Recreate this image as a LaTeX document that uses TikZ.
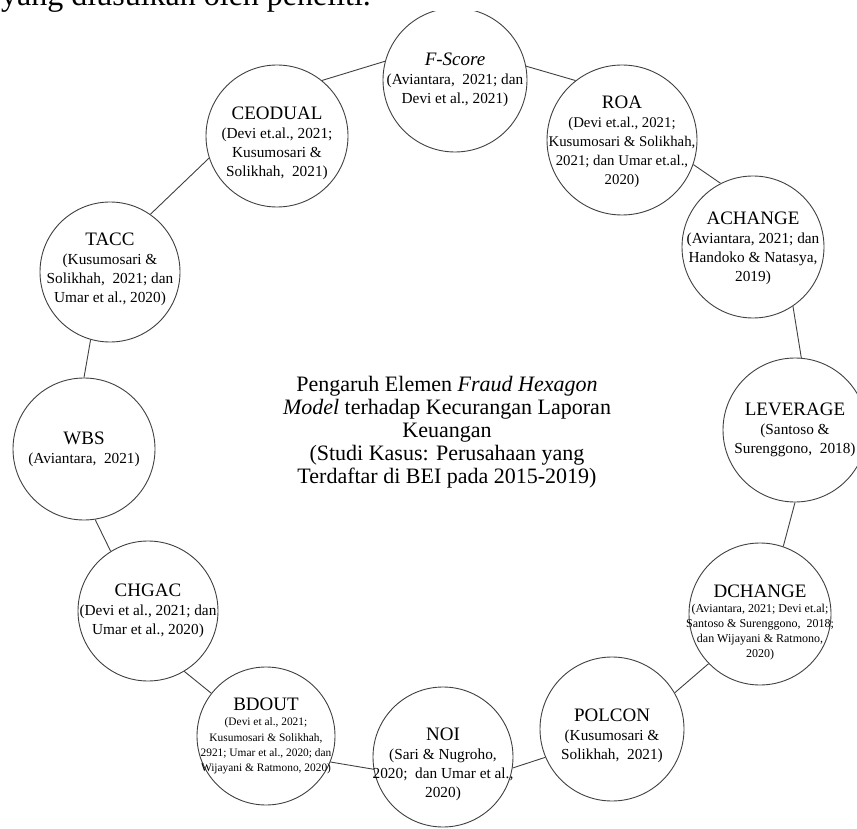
\documentclass[tikz,border=0pt]{standalone}
\usepackage{fontspec}
\setmainfont{Liberation Serif}
\newcommand\ttlf{\fontsize{19}{21}\selectfont}
\newcommand\reff{\fontsize{15.3}{19}\selectfont}
\newcommand\roaf{\fontsize{14.8}{19}\selectfont}
\newcommand\smlf{\fontsize{12}{15}\selectfont}
\newcommand\bdof{\fontsize{11.4}{15.3}\selectfont}
\newcommand\ctrf{\fontsize{22}{23}\selectfont}
\begin{document}
\begin{tikzpicture}[x=1pt,y=-1pt,
  bub/.style={circle,draw=black!75,line width=0.9pt,fill=white,minimum size=144pt,inner sep=0pt},
  lbl/.style={align=center,inner sep=0pt,font=\reff},
  link/.style={draw=black!75,line width=0.9pt}]
\useasboundingbox (0,0) rectangle (857,829);
% circles
\node[bub] (fs) at (455,80) {};
\node[bub,minimum size=150pt] (roa) at (622,140) {};
\node[bub,minimum size=142pt] (ach) at (753,247) {};
\node[bub] (lev) at (795,430) {};
\node[bub,minimum size=142pt] (dch) at (760,614) {};
\node[bub,minimum size=144pt] (pol) at (612,729) {};
\node[bub,minimum size=140pt] (noi) at (443,757) {};
\node[bub,minimum size=138pt] (bdo) at (266,736) {};
\node[bub,minimum size=140pt] (chg) at (148,611) {};
\node[bub,minimum size=142pt] (wbs) at (84,449) {};
\node[bub,minimum size=140pt] (tacc) at (110,272) {};
\node[bub,minimum size=142pt] (ceo) at (277,136) {};
% texts
\node[lbl] (fst) at (fs.center) {{\ttlf\textit{F-Score}}\\(Aviantara,\ \ 2021; dan\\Devi et al., 2021)};
\node[lbl,font=\roaf] (roat) at ([yshift=-2pt]roa.center) {{\ttlf ROA}\\(Devi et.al., 2021;\\Kusumosari \& Solikhah,\\2021; dan Umar et.al.,\\2020)};
\node[lbl] (acht) at ([yshift=-1pt]ach.center) {{\ttlf ACHANGE}\\(Aviantara, 2021; dan\\Handoko \& Natasya,\\2019)};
\node[lbl] (levt) at (lev.center) {{\ttlf LEVERAGE}\\(Santoso \&\\Surenggono,\ \ 2018)};
\node[lbl,font=\smlf] (dcht) at ([yshift=-8pt]dch.center) {{\ttlf DCHANGE}\\(Aviantara, 2021; Devi et.al;\\Santoso \& Surenggono,\ \ 2018;\\dan Wijayani \& Ratmono,\\2020)};
\node[lbl] (polt) at ([yshift=-7pt]pol.center) {{\ttlf POLCON}\\(Kusumosari \&\\Solikhah,\ \ 2021)};
\node[lbl] (noit) at ([yshift=-7pt]noi.center) {{\ttlf NOI}\\(Sari \& Nugroho,\\2020;\ \ dan Umar et al.,\\2020)};
\node[lbl,font=\bdof] (bdot) at (bdo.center) {{\ttlf BDOUT}\\(Devi et al., 2021;\\Kusumosari \& Solikhah,\\2921; Umar et al., 2020; dan\\Wijayani \& Ratmono, 2020)};
\node[lbl] (chgt) at (chg.center) {{\ttlf CHGAC}\\(Devi et al., 2021; dan\\Umar et al., 2020)};
\node[lbl] (wbst) at (wbs.center) {{\ttlf WBS}\\(Aviantara,\ \ 2021)};
\node[lbl] (tacct) at ([yshift=3pt]tacc.center) {{\ttlf TACC}\\(Kusumosari \&\\Solikhah,\ \ 2021; dan\\Umar et al., 2020)};
\node[lbl] (ceot) at ([yshift=-7pt]ceo.center) {{\ttlf CEODUAL}\\(Devi et.al., 2021;\\Kusumosari \&\\Solikhah,\ \ 2021)};
% connectors
\path[link] (ceo.51) -- (fs.165);
\path[link] (fs.11) -- (roa.128);
\path[link] (roa.-19) -- (ach.117);
\path[link] (ach.-56) -- (lev.85);
\path[link] (lev.-90) -- (dch.71);
\path[link] (dch.-136) -- (pol.30);
\path[link] (pol.-157) -- (noi.-9);
\path[link] (noi.-170) -- (bdo.-22);
\path[link] (bdo.142) -- (chg.-59);
\path[link] (chg.122) -- (wbs.-81);
\path[link] (wbs.90) -- (tacc.-106);
\path[link] (tacc.55) -- (ceo.-162);
\node[align=center,font=\ctrf,inner sep=0pt] (ctr) at (447,432) {Pengaruh Elemen \textit{Fraud Hexagon}\\\textit{Model} terhadap Kecurangan Laporan\\Keuangan\\(Studi Kasus: Perusahaan yang\\Terdaftar di BEI pada 2015-2019)};
\fill[white] (0,0) rectangle (857,11);
\node[anchor=base west,inner sep=0pt,font=\fontsize{32}{36}\selectfont] (top) at (1,6) {yang diusulkan oleh peneliti.};
\end{tikzpicture}
\end{document}
